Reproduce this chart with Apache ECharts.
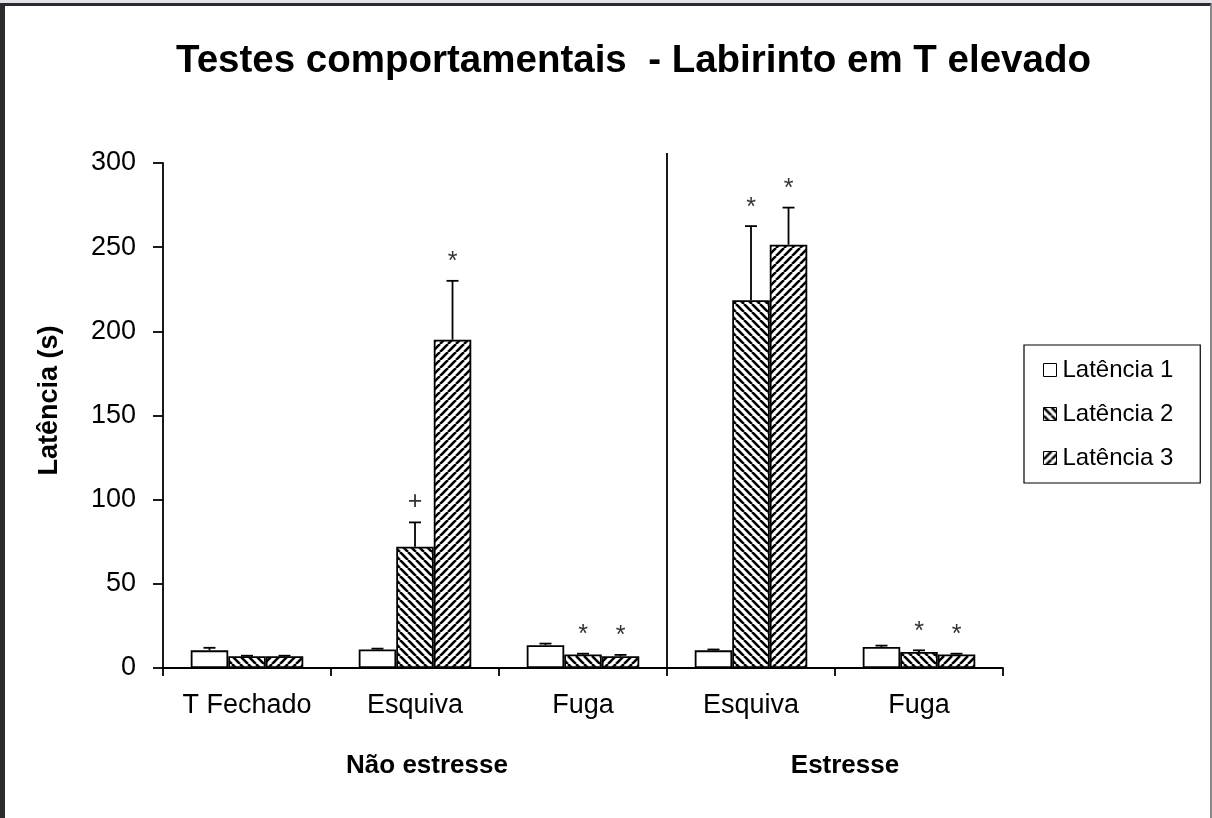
<!DOCTYPE html>
<html>
<head>
<meta charset="utf-8">
<script src="https://cdn.jsdelivr.net/npm/echarts@6/dist/echarts.min.js"></script>
<style>
html,body{margin:0;padding:0;background:#fff;}
#frame{position:absolute;left:0;top:0;width:1212px;height:818px;box-sizing:border-box;border-top:6px solid #2b2b2b;border-left:5px solid #2b2b2b;border-right:2px solid #8a8a8a;}
#strip{position:absolute;left:0;top:0;width:1212px;height:3px;background:#dfe3ea;}
#chart{position:absolute;left:0;top:0;width:1212px;height:818px;}
</style>
</head>
<body>
<div id="chart"></div>
<div id="frame"></div>
<div id="strip"></div>
<script>
const categories = ['T Fechado', 'Esquiva', 'Fuga', 'Esquiva', 'Fuga'];
const groups = ['Não estresse', 'Estresse'];
const seriesNames = ['Latência 1', 'Latência 2', 'Latência 3'];
const lat1 = [10.5, 11, 13.5, 10.5, 12.5];
const lat2 = [7, 72, 8, 218.5, 9.5];
const lat3 = [7, 195, 7, 251.5, 8];
const err1 = [1.5, 0.5, 1, 0.5, 0.8];
const err2 = [0.3, 14.5, 0.5, 44, 1];
const err3 = [0.3, 35, 0.8, 22, 0.5];
const mark1 = ['', '', '', '', ''];
const mark2 = ['', '+', '*', '*', '*'];
const mark3 = ['', '*', '*', '*', '*'];
const yTicks = [0, 50, 100, 150, 200, 250, 300];

function hatch(dir) {
  const s = 8;
  const c = document.createElement('canvas');
  c.width = s; c.height = s;
  const g = c.getContext('2d');
  g.fillStyle = '#fff'; g.fillRect(0, 0, s, s);
  g.strokeStyle = '#000'; g.lineWidth = 2.6;
  g.beginPath();
  for (let k = -1; k <= 1; k++) {
    if (dir === 'back') { g.moveTo(k * s, 0); g.lineTo(k * s + s, s); }
    else { g.moveTo(k * s, s); g.lineTo(k * s + s, 0); }
  }
  g.stroke();
  return c;
}
const fills = [
  '#ffffff',
  { image: hatch('back'), repeat: 'repeat' },
  { image: hatch('fwd'), repeat: 'repeat' }
];
const values = [lat1, lat2, lat3];
const errs = [err1, err2, err3];
const marks = [mark1, mark2, mark3];
const GAP = 0.33;
const font = '"Liberation Sans", Arial, sans-serif';

function errRender(si) {
  return function (params, api) {
    const i = params.dataIndex;
    const band = api.size([1, 0])[0];
    const bw = band * (1 - GAP) / 3;
    const cx = api.coord([i, 0])[0] + (si - 1) * bw;
    const top = api.coord([i, values[si][i]]);
    const high = api.coord([i, values[si][i] + errs[si][i]]);
    const children = [
      { type: 'line', shape: { x1: cx, y1: top[1], x2: cx, y2: high[1] }, style: { stroke: '#000', lineWidth: 1.8 } },
      { type: 'line', shape: { x1: cx - 6, y1: high[1], x2: cx + 6, y2: high[1] }, style: { stroke: '#000', lineWidth: 1.8 } }
    ];
    const m = marks[si][i];
    if (m) {
      children.push({ type: 'text', style: { text: m, x: cx, y: high[1] - (m === '+' ? 8 : 6), align: 'center', verticalAlign: 'bottom', font: '25px ' + font, fill: '#333' } });
    }
    if (si === 0 && i === 3) {
      const bx = api.coord([i, 0])[0] - band / 2;
      const y0 = api.coord([i, 0])[1];
      const y1 = api.coord([i, 300])[1] - 10;
      children.push({ type: 'line', shape: { x1: bx, y1: y0, x2: bx, y2: y1 }, style: { stroke: '#000', lineWidth: 1.8 } });
    }
    return { type: 'group', children: children };
  };
}

const series = [];
seriesNames.forEach(function (n, si) {
  series.push({
    name: n, type: 'bar', data: values[si],
    barGap: '0%', barCategoryGap: (GAP * 100) + '%',
    itemStyle: { color: fills[si], borderColor: '#000', borderWidth: 1.8 },
    emphasis: { disabled: true }
  });
});
seriesNames.forEach(function (n, si) {
  series.push({
    type: 'custom', data: values[si].map(function (v, i) { return [i, v]; }),
    renderItem: errRender(si), silent: true, z: 5
  });
});

const chart = echarts.init(document.getElementById('chart'), null, { renderer: 'canvas' });
chart.setOption({
  animation: false,
  backgroundColor: '#fff',
  title: {
    text: 'Testes comportamentais  - Labirinto em T elevado',
    left: 171, top: 37,
    textStyle: { fontFamily: font, fontSize: 38.5, fontWeight: 'bold', color: '#000' }
  },
  legend: {
    orient: 'vertical', left: 1024, top: 345,
    data: seriesNames.map(function (n, si) { return { name: n, itemStyle: { color: fills[si], borderColor: '#000', borderWidth: 1 } }; }),
    icon: 'rect', itemWidth: 13, itemHeight: 13, itemGap: 20,
    padding: [13, 27, 13, 19],
    borderColor: '#000', borderWidth: 1.2,
    textStyle: { fontFamily: font, fontSize: 24, color: '#000', padding: [0, 0, 0, 1] }
  },
  grid: { left: 163, right: 209, top: 163, bottom: 150 },
  xAxis: {
    type: 'category', data: categories,
    axisLine: { lineStyle: { color: '#000', width: 1.8 } },
    axisTick: { show: true, length: 8, lineStyle: { color: '#000', width: 1.8 } },
    axisLabel: { fontFamily: font, fontSize: 27, color: '#000', margin: 24 }
  },
  yAxis: {
    type: 'value', min: 0, max: 300, interval: 50,
    name: 'Latência (s)', nameLocation: 'middle', nameGap: 100,
    nameTextStyle: { fontFamily: font, fontSize: 27, fontWeight: 'bold', color: '#000', padding: [0, 0, 0, 30] },
    axisLine: { show: true, lineStyle: { color: '#000', width: 1.8 } },
    axisTick: { show: true, inside: false, length: 10, lineStyle: { color: '#000', width: 1.8 } },
    axisLabel: { fontFamily: font, fontSize: 27, color: '#000', margin: 27,
      formatter: function (v) { return yTicks.indexOf(v) >= 0 ? String(v) : ''; } },
    splitLine: { show: false }
  },
  series: series
});

function placeGroups() {
  const a = chart.convertToPixel({ xAxisIndex: 0 }, 1);
  const b0 = chart.convertToPixel({ xAxisIndex: 0 }, 3);
  const b1 = chart.convertToPixel({ xAxisIndex: 0 }, 4);
  const y = chart.convertToPixel({ yAxisIndex: 0 }, 0) + 98;
  chart.setOption({
    graphic: [
      { type: 'text', x: a + 12, y: y, style: { text: groups[0], align: 'center', verticalAlign: 'middle', font: 'bold 26px ' + font, fill: '#000' } },
      { type: 'text', x: (b0 + b1) / 2 + 10, y: y, style: { text: groups[1], align: 'center', verticalAlign: 'middle', font: 'bold 26px ' + font, fill: '#000' } }
    ]
  });
}
placeGroups();
</script>
</body>
</html>
